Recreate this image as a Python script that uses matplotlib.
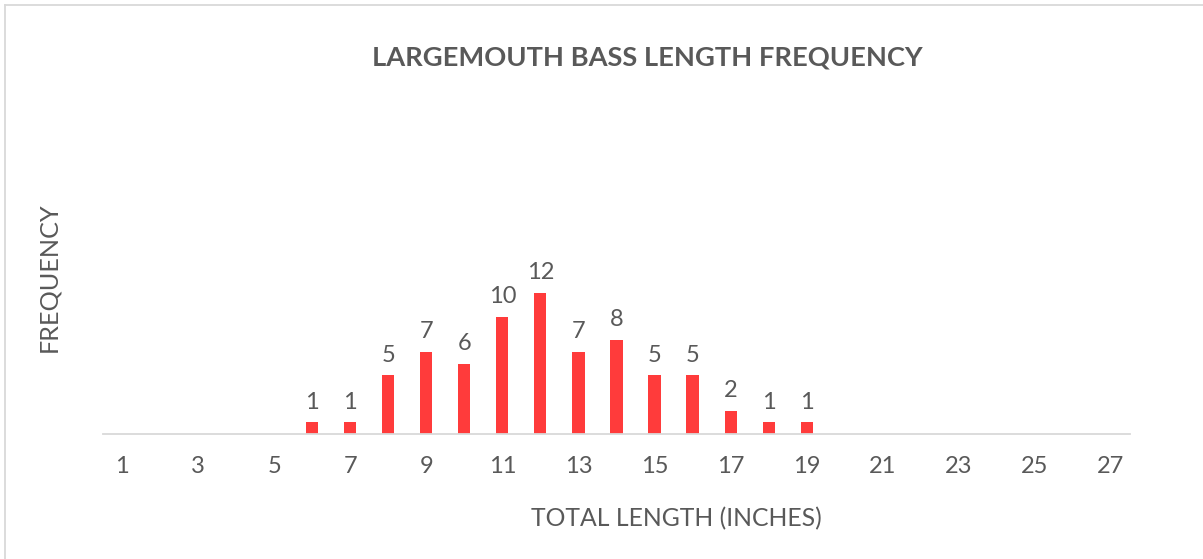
import matplotlib.pyplot as plt
from matplotlib.lines import Line2D

lengths = list(range(1, 28))
freq = [0, 0, 0, 0, 0, 1, 1, 5, 7, 6, 10, 12, 7, 8, 5, 5, 2, 1, 1,
        0, 0, 0, 0, 0, 0, 0, 0]
tick_labels = [str(v) for v in lengths[::2]]

GRAY = '#595959'
RED = '#FF3B3B'

plt.rcParams['font.family'] = ['Lato', 'DejaVu Sans']


def Display():
    fig = plt.figure(figsize=(12.03, 5.59), dpi=100)
    ax = fig.add_axes([0.0856, 0.2236, 0.8537, 0.588])

    x = list(range(len(lengths)))
    bars = ax.bar(x, freq, width=0.32, color=RED)
    for b, v in zip(bars, freq):
        if v > 0:
            ax.annotate(str(v), (b.get_x() + b.get_width() / 2, v),
                        xytext=(0, 7), textcoords='offset points',
                        ha='center', va='bottom', fontsize=17, color=GRAY)

    ax.set_xlim(-0.5, len(lengths) - 0.5)
    ax.set_ylim(0, 28)
    ax.set_xticks(x[::2])
    ax.set_xticklabels(tick_labels, fontsize=17, color=GRAY)
    ax.tick_params(axis='x', length=0, pad=16)
    ax.set_yticks([])
    for s in ['top', 'right', 'left']:
        ax.spines[s].set_visible(False)
    ax.spines['bottom'].set_color('#D9D9D9')
    ax.spines['bottom'].set_linewidth(1.3)

    fig.text(0.538, 0.897, 'LARGEMOUTH BASS LENGTH FREQUENCY', ha='center',
             va='center', fontsize=19.6, fontweight='bold', color=GRAY)
    fig.text(0.5624, 0.073, 'TOTAL LENGTH (INCHES)', ha='center', va='center',
             fontsize=17.8, color=GRAY)
    fig.text(0.0407, 0.505, 'FREQUENCY', ha='center', va='center',
             rotation=90, fontsize=18.2, color=GRAY)

    # chart frame (only top and left edges visible in crop)
    fig.add_artist(Line2D([0.0045, 0.0045], [0, 0.991], color='#D9D9D9', lw=1.3))
    fig.add_artist(Line2D([0.0045, 1], [0.991, 0.991], color='#D9D9D9', lw=1.3))

    fig.savefig('out.png', dpi=100)


def main():
    Display()


if __name__ == "__main__":
    main()
